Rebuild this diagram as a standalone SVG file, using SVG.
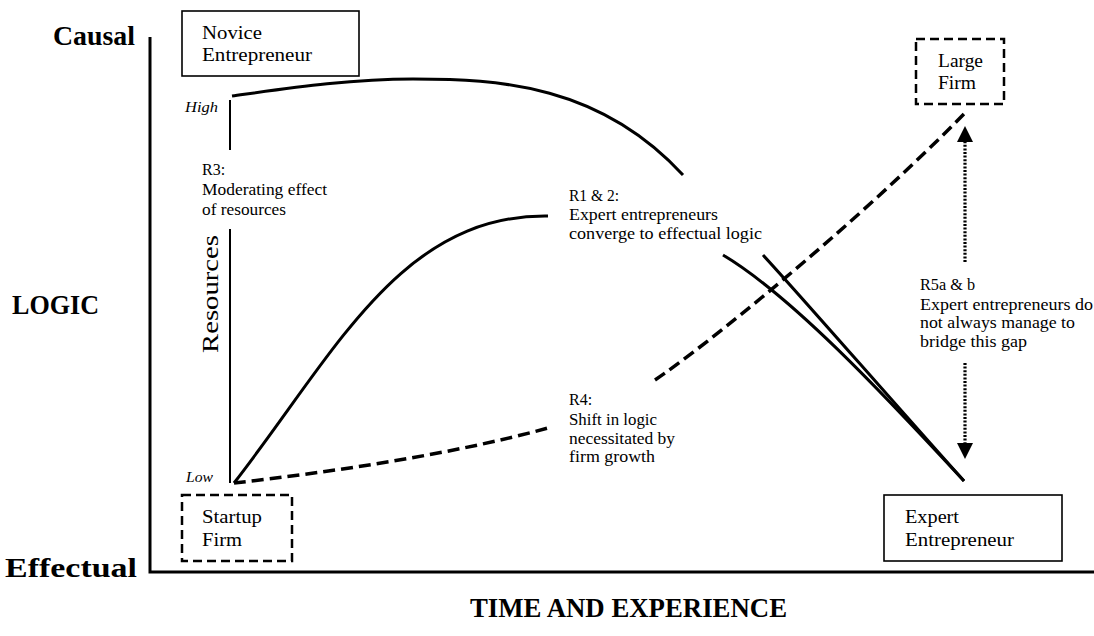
<svg xmlns="http://www.w3.org/2000/svg" width="1094" height="636" viewBox="0 0 1094 636">
<style>
text { font-family: "Liberation Serif", "Times New Roman", serif; fill: #000; }
.ax { font-weight: bold; font-size: 27px; }
.bx { font-size: 19px; }
.nt { font-size: 16px; }
.it { font-style: italic; font-size: 15px; }
.sbox { fill: #fff; stroke: #000; stroke-width: 1.6; }
.dbox { fill: #fff; stroke: #000; stroke-width: 2.5; stroke-dasharray: 9 5; }
.axis { fill: none; stroke: #000; stroke-width: 3; }
.curve { fill: none; stroke: #000; stroke-width: 3; }
.dcurve { fill: none; stroke: #000; stroke-width: 3.5; stroke-dasharray: 12 6; }
.dot { fill: none; stroke: #000; stroke-width: 3.2; stroke-dasharray: 2 1.6; }
.res { fill: none; stroke: #000; stroke-width: 2; }
</style>
<defs>
<marker id="ah" viewBox="0 0 16 16" refX="0" refY="8" markerWidth="16" markerHeight="16" orient="auto" markerUnits="userSpaceOnUse">
<path d="M0,0 L16,8 L0,16 z" fill="#000"/>
</marker>
</defs>
<rect width="1094" height="636" fill="#fff"/>

<g id="axes">
<path class="axis" d="M150,37 L150,572 L1094,572"/>
<text class="ax" x="135" y="45" text-anchor="end" textLength="82" lengthAdjust="spacingAndGlyphs">Causal</text>
<text class="ax" x="12" y="314" textLength="87" lengthAdjust="spacingAndGlyphs">LOGIC</text>
<text class="ax" x="137" y="577" text-anchor="end" textLength="132" lengthAdjust="spacingAndGlyphs">Effectual</text>
<text class="ax" x="470" y="617" textLength="317" lengthAdjust="spacingAndGlyphs">TIME AND EXPERIENCE</text>
</g>

<g id="resources-scale">
<path class="res" d="M230,100 L230,150 M230,229 L230,483"/>
<text class="it" x="185" y="112" textLength="33" lengthAdjust="spacingAndGlyphs">High</text>
<text class="it" x="186" y="482" textLength="27" lengthAdjust="spacingAndGlyphs">Low</text>
<text x="218" y="294" font-size="24" text-anchor="middle" transform="rotate(-90 218 294)" textLength="118" lengthAdjust="spacingAndGlyphs">Resources</text>
</g>

<g id="connectors">
<path class="curve" d="M232,96 C290,88 350,79 413,79 C500,79 600,85 683,175"/>
<path class="curve" d="M763,255 C800,295 900,410 964,481"/>
<path class="curve" d="M234,483 C334,355 400,214 548,216"/>
<path class="curve" d="M723,255 C790,295 880,390 964,481"/>
<path class="dcurve" d="M234,483 C330,472 450,455 548,428"/>
<path class="dcurve" d="M655,380 C700,350 850,230 965,113"/>
<path class="dot" d="M965,262 L965,142" marker-end="url(#ah)"/>
<path class="dot" d="M965,363 L965,443" marker-end="url(#ah)"/>
</g>

<g id="novice-entrepreneur">
<rect class="sbox" x="182" y="11" width="177" height="65"/>
<text class="bx" x="202" y="39" textLength="60" lengthAdjust="spacingAndGlyphs">Novice</text>
<text class="bx" x="202" y="61" textLength="110" lengthAdjust="spacingAndGlyphs">Entrepreneur</text>
</g>

<g id="large-firm">
<rect class="dbox" x="916" y="39" width="88" height="65"/>
<text class="bx" x="938" y="67" textLength="45" lengthAdjust="spacingAndGlyphs">Large</text>
<text class="bx" x="938" y="89" textLength="38" lengthAdjust="spacingAndGlyphs">Firm</text>
</g>

<g id="startup-firm">
<rect class="dbox" x="182" y="495" width="110" height="66"/>
<text class="bx" x="202" y="523" textLength="60" lengthAdjust="spacingAndGlyphs">Startup</text>
<text class="bx" x="202" y="546" textLength="40" lengthAdjust="spacingAndGlyphs">Firm</text>
</g>

<g id="expert-entrepreneur">
<rect class="sbox" x="884" y="495" width="178" height="66"/>
<text class="bx" x="905" y="523" textLength="54" lengthAdjust="spacingAndGlyphs">Expert</text>
<text class="bx" x="905" y="546" textLength="109" lengthAdjust="spacingAndGlyphs">Entrepreneur</text>
</g>

<g id="label-r3">
<text class="nt" x="202" y="175">R3:</text>
<text class="nt" x="202" y="195" textLength="125" lengthAdjust="spacingAndGlyphs">Moderating effect</text>
<text class="nt" x="202" y="215" textLength="84" lengthAdjust="spacingAndGlyphs">of resources</text>
</g>

<g id="label-r1-2">
<text class="nt" x="569" y="201" textLength="50" lengthAdjust="spacingAndGlyphs">R1 &amp; 2:</text>
<text class="nt" x="569" y="220" textLength="149" lengthAdjust="spacingAndGlyphs">Expert entrepreneurs</text>
<text class="nt" x="569" y="239" textLength="193" lengthAdjust="spacingAndGlyphs">converge to effectual logic</text>
</g>

<g id="label-r4">
<text class="nt" x="569" y="405">R4:</text>
<text class="nt" x="569" y="425" textLength="88" lengthAdjust="spacingAndGlyphs">Shift in logic</text>
<text class="nt" x="569" y="444" textLength="106" lengthAdjust="spacingAndGlyphs">necessitated by</text>
<text class="nt" x="569" y="462" textLength="86" lengthAdjust="spacingAndGlyphs">firm growth</text>
</g>

<g id="label-r5">
<text class="nt" x="920" y="290" textLength="55" lengthAdjust="spacingAndGlyphs">R5a &amp; b</text>
<text class="nt" x="920" y="310" textLength="173" lengthAdjust="spacingAndGlyphs">Expert entrepreneurs do</text>
<text class="nt" x="920" y="328" textLength="155" lengthAdjust="spacingAndGlyphs">not always manage to</text>
<text class="nt" x="920" y="347" textLength="107" lengthAdjust="spacingAndGlyphs">bridge this gap</text>
</g>
</svg>
